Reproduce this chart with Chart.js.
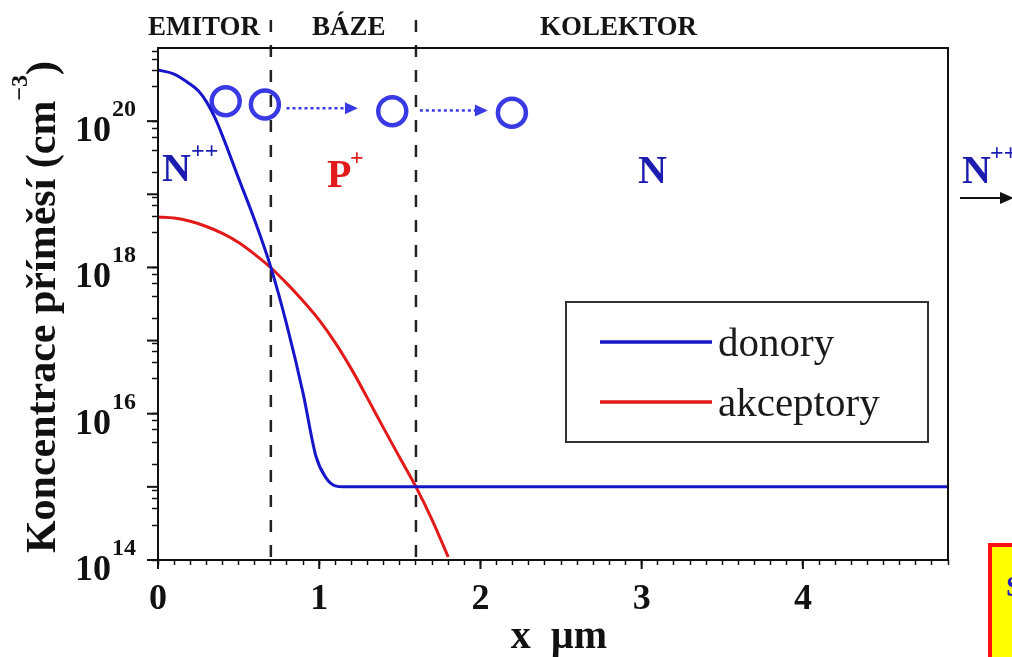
<!DOCTYPE html>
<html><head><meta charset="utf-8">
<script src="https://cdn.jsdelivr.net/npm/chart.js@4.4.1/dist/chart.umd.min.js"></script>
<style>html,body{margin:0;padding:0;background:#fff;overflow:hidden}canvas{display:block}</style>
</head><body>
<canvas id="c" width="1012" height="657"></canvas>
<script>
// ---- data ----
const xDonory = [0, 0.1, 0.2, 0.25, 0.3, 0.35, 0.4, 0.5, 0.6, 0.7, 0.8, 0.9, 0.98, 1.04, 1.1, 1.15, 2, 3, 4, 4.9];
const nDonory = [5.0e20, 4.4e20, 3.2e20, 2.6e20, 1.85e20, 1.15e20, 6.3e19, 1.65e19, 4.4e18, 1.0e18, 1.6e17, 1.9e16, 2.6e15, 1.35e15, 1.03e15, 1e15, 1e15, 1e15, 1e15, 1e15];
const xAkceptory = [0, 0.1, 0.2, 0.3, 0.4, 0.5, 0.6, 0.7, 0.8, 0.9, 1.0, 1.1, 1.2, 1.3, 1.4, 1.5, 1.6, 1.7, 1.8];
const nAkceptory = [4.9e18, 4.73e18, 4.27e18, 3.63e18, 2.92e18, 2.19e18, 1.51e18, 9.9e17, 6.0e17, 3.47e17, 1.9e17, 9.3e16, 4.07e16, 1.62e16, 6.3e15, 2.5e15, 1.0e15, 3.55e14, 1.1e14];
const seriesLabels = ['donory', 'akceptory'];
const xTickLabels = ['0', '1', '2', '3', '4'];
const yTickExponents = [14, 16, 18, 20];
const junctionX = [0.7, 1.6];
const electronX = [0.42, 0.663, 1.453, 2.195];
const electronY = [1.87e20, 1.69e20, 1.37e20, 1.3e20];
const arrowFromX = [0.797, 1.624];
const arrowToX = [1.24, 2.046];
const arrowY = [1.5e20, 1.4e20];
const regionLabels = ['EMITOR', 'BÁZE', 'KOLEKTOR'];

// ---- styles ----
const BLUE = '#1616c8', RED = '#e31a1a', CIRC = '#3a3ae4', TXTBLUE = '#1c1cb0';
const SERIF = '"Liberation Serif","Times New Roman",serif';

const pts = (xs, ys) => xs.map((x, i) => ({x, y: ys[i]}));

const overlay = {
  id: 'overlay',
  beforeDatasetsDraw(chart) {
    const {ctx, chartArea: a, scales: {x}} = chart;
    ctx.save();
    ctx.strokeStyle = '#222'; ctx.lineWidth = 2.5; ctx.setLineDash([12, 13]);
    junctionX.forEach(v => {
      const px = x.getPixelForValue(v);
      ctx.beginPath(); ctx.moveTo(px, 20); ctx.lineTo(px, a.bottom); ctx.stroke();
    });
    ctx.restore();
  },
  afterDatasetsDraw(chart) {
    const {ctx, chartArea: a, scales: {x, y}} = chart;
    ctx.save();
    // frame
    ctx.strokeStyle = '#111'; ctx.lineWidth = 2;
    ctx.strokeRect(a.left, a.top, a.right - a.left, a.bottom - a.top);
    // major ticks
    ctx.lineWidth = 2;
    for (let e = 14; e <= 20; e++) {
      const py = y.getPixelForValue(Math.pow(10, e));
      ctx.beginPath(); ctx.moveTo(a.left - 11, py); ctx.lineTo(a.left, py); ctx.stroke();
    }
    for (let i = 0; i < xTickLabels.length; i++) {
      const px = x.getPixelForValue(Number(xTickLabels[i]));
      ctx.beginPath(); ctx.moveTo(px, a.bottom); ctx.lineTo(px, a.bottom + 9); ctx.stroke();
    }
    // dotted arrows between electrons
    ctx.strokeStyle = CIRC; ctx.fillStyle = CIRC; ctx.lineWidth = 2.5; ctx.setLineDash([3, 3]);
    arrowFromX.forEach((fx, i) => {
      const x1 = x.getPixelForValue(fx), x2 = x.getPixelForValue(arrowToX[i]), py = y.getPixelForValue(arrowY[i]);
      ctx.beginPath(); ctx.moveTo(x1, py); ctx.lineTo(x2 - 11, py); ctx.stroke();
      ctx.beginPath(); ctx.moveTo(x2, py); ctx.lineTo(x2 - 13, py - 6); ctx.lineTo(x2 - 13, py + 6); ctx.closePath(); ctx.fill();
    });
    ctx.setLineDash([]);
    // legend
    ctx.fillStyle = '#fff'; ctx.fillRect(566, 302, 362, 140);
    ctx.strokeStyle = '#333'; ctx.lineWidth = 2; ctx.strokeRect(566, 302, 362, 140);
    const ds = chart.data.datasets;
    [0, 1].forEach(i => {
      const ly = 342 + i * 60;
      ctx.strokeStyle = ds[i].borderColor; ctx.lineWidth = 3.5;
      ctx.beginPath(); ctx.moveTo(600, ly); ctx.lineTo(712, ly); ctx.stroke();
      ctx.fillStyle = '#1a1a1a'; ctx.font = '41px ' + SERIF; ctx.textAlign = 'left'; ctx.textBaseline = 'alphabetic';
      ctx.fillText(ds[i].label, 718, ly + 14);
    });
    ctx.restore();
  },
  afterDraw(chart) {
    const {ctx, scales: {y}} = chart;
    ctx.save();
    ctx.textBaseline = 'alphabetic';
    // y tick labels with superscripts
    ctx.fillStyle = '#111';
    yTickExponents.forEach(e => {
      const py = y.getPixelForValue(Math.pow(10, e));
      ctx.font = 'bold 36px ' + SERIF; ctx.textAlign = 'right';
      ctx.fillText('10', 111, py + 20);
      ctx.font = 'bold 24px ' + SERIF; ctx.textAlign = 'left';
      ctx.fillText(String(e), 112, py - 5);
    });
    // y axis title (rotated)
    ctx.save();
    ctx.translate(55, 0); ctx.rotate(-Math.PI / 2);
    const t1 = 'Koncentrace příměsí (cm', t2 = '−3', t3 = ')';
    ctx.font = 'bold 42px ' + SERIF; const w1 = ctx.measureText(t1).width, w3 = ctx.measureText(t3).width;
    ctx.font = 'bold 24px ' + SERIF; const w2 = ctx.measureText(t2).width;
    const total = w1 + w2 + w3;
    let sx = -307 - total / 2;
    ctx.textAlign = 'left';
    ctx.font = 'bold 42px ' + SERIF; ctx.fillText(t1, sx, 0);
    ctx.font = 'bold 24px ' + SERIF; ctx.fillText(t2, sx + w1, -28);
    ctx.font = 'bold 42px ' + SERIF; ctx.fillText(t3, sx + w1 + w2, 0);
    ctx.restore();
    // x axis title
    ctx.font = 'bold 40px ' + SERIF; ctx.textAlign = 'center';
    ctx.fillText('x  µm', 559, 648);
    // region labels
    ctx.font = 'bold 27px ' + SERIF; ctx.textAlign = 'left'; ctx.fillStyle = '#141414';
    ctx.fillText(regionLabels[0], 148, 35);
    ctx.fillText(regionLabels[1], 312, 35);
    ctx.fillText(regionLabels[2], 540, 35);
    // doping type labels
    ctx.fillStyle = TXTBLUE; ctx.font = 'bold 40px ' + SERIF;
    ctx.fillText('N', 162, 181);
    ctx.fillText('N', 638, 183);
    ctx.fillText('N', 962, 183);
    ctx.font = 'bold 24px ' + SERIF;
    ctx.fillText('++', 191, 158);
    ctx.fillText('++', 990, 160);
    ctx.fillStyle = RED; ctx.font = 'bold 40px ' + SERIF;
    ctx.fillText('P', 327, 187);
    ctx.font = 'bold 24px ' + SERIF;
    ctx.fillText('+', 350, 165);
    // arrow at the right edge
    ctx.strokeStyle = '#111'; ctx.fillStyle = '#111'; ctx.lineWidth = 2;
    ctx.beginPath(); ctx.moveTo(960, 198); ctx.lineTo(1002, 198); ctx.stroke();
    ctx.beginPath(); ctx.moveTo(1014, 198); ctx.lineTo(1000, 192); ctx.lineTo(1000, 204); ctx.closePath(); ctx.fill();
    // yellow note box, cut by the edge
    ctx.fillStyle = '#ffff00'; ctx.fillRect(990, 545, 40, 130);
    ctx.strokeStyle = '#ff1010'; ctx.lineWidth = 4; ctx.strokeRect(990, 545, 40, 130);
    ctx.fillStyle = '#2020c0'; ctx.font = 'bold 30px ' + SERIF;
    ctx.fillText('S', 1006, 596);
    ctx.restore();
  }
};

new Chart(document.getElementById('c'), {
  type: 'scatter',
  data: {
    datasets: [
      {label: seriesLabels[0], data: pts(xDonory, nDonory), showLine: true, borderColor: BLUE, borderWidth: 3, pointRadius: 0, cubicInterpolationMode: 'monotone', fill: false},
      {label: seriesLabels[1], data: pts(xAkceptory, nAkceptory), showLine: true, borderColor: RED, borderWidth: 3, pointRadius: 0, cubicInterpolationMode: 'monotone', fill: false},
      {label: 'elektrony', data: pts(electronX, electronY), showLine: false, pointRadius: 14, pointHoverRadius: 14, borderColor: CIRC, backgroundColor: 'rgba(0,0,0,0)', borderWidth: 4.5}
    ]
  },
  options: {
    responsive: false, animation: false, devicePixelRatio: 1,
    layout: {padding: {left: 0, top: 48, right: 64, bottom: 0}},
    plugins: {legend: {display: false}, tooltip: {enabled: false}},
    events: [],
    scales: {
      x: {
        type: 'linear', min: 0, max: 4.9,
        afterBuildTicks: s => { s.ticks = Array.from({length: 50}, (_, i) => ({value: i / 10})); },
        afterFit: s => { s.height = 97; },
        ticks: {
          autoSkip: false, maxRotation: 0, padding: 13, color: '#111',
          font: {family: SERIF, size: 36, weight: 'bold'},
          callback: v => { const r = Math.round(v * 10); return r % 10 === 0 ? xTickLabels[r / 10] : ''; }
        },
        grid: {display: true, drawOnChartArea: false, drawTicks: true, tickLength: 5, tickWidth: 1.5, tickColor: '#111'},
        border: {display: false}
      },
      y: {
        type: 'logarithmic', min: 1e14, max: 1e21,
        afterBuildTicks: s => {
          const t = [];
          for (let e = 14; e <= 20; e++) for (let m = 1; m <= 9; m++) t.push({value: m * Math.pow(10, e)});
          t.push({value: 1e21});
          s.ticks = t;
        },
        afterFit: s => { s.width = 158; },
        ticks: {display: true, callback: () => '', font: {size: 10}},
        grid: {display: true, drawOnChartArea: false, drawTicks: true, tickLength: 6, tickWidth: 1.5, tickColor: '#111'},
        border: {display: false}
      }
    }
  },
  plugins: [overlay]
});
</script>
</body></html>
